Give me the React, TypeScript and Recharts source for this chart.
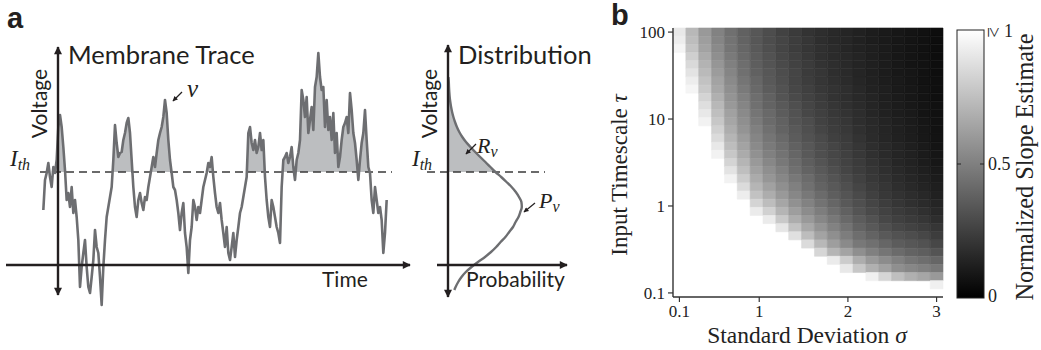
import React from 'react';
import { ComposedChart, Line, Area, XAxis, YAxis, ReferenceLine, ReferenceArea } from 'recharts';

// ---------- Panel a: membrane trace (threshold I_th at 0, arbitrary units) ----------
const traceVoltage = [
  -3.8, -0.8, -0.1, 0.9, -0.5, -1.5, 0.5, -0.1, 1.2, 4.5,
  5.7, 4.5, 2.5, 0.2, -2.8, -2.1, -3.5, -1.5, -4.1, -2.8,
  -4.5, -6.8, -11.5, -9.5, -8.1, -6.8, -9.5, -11.5, -12.1, -10.5,
  -8.8, -5.8, -7.5, -8.1, -10.5, -13.3, -9.5, -6.8, -4.5, -3.5,
  -2.5, -1.5, 1.2, 4.7, 2.9, 1.5, 1.9, 2.0, 3.2, 3.9,
  4.9, 5.4, 3.9, 1.2, -1.5, -3.5, -4.5, -2.8, -2.1, -3.1,
  -3.8, -2.5, -2.8, -1.5, -0.5, 0.5, 1.5, 0.5, 1.9, 3.2,
  3.9, 4.5, 5.5, 7.2, 5.9, 3.2, 1.2, -0.1, -1.5, -1.8,
  -2.8, -4.1, -5.8, -4.1, -3.1, -6.1, -7.5, -10.1, -6.8, -5.5,
  -2.8, -3.5, -4.8, -3.5, -4.1, -2.8, -1.5, -0.8, -0.1, 0.9,
  0.5, 1.5, -0.5, -2.1, -3.5, -4.1, -3.1, -4.8, -6.1, -7.5,
  -5.5, -8.1, -8.8, -7.5, -6.1, -8.5, -6.8, -5.5, -4.1, -3.5,
  -2.5, -1.5, -0.5, 3.9, 4.5, 2.9, 2.2, 3.2, 1.9, 2.5,
  3.9, 2.2, 3.2, -0.5, -2.8, -4.5, -5.5, -2.8, -3.5, -4.5,
  -5.5, -6.1, -7.1, -1.5, 1.2, 1.5, 1.9, 0.9, 1.5, 2.5,
  0.5, -0.8, 1.2, 1.9, 3.2, 8.2, 7.2, 5.5, 7.5, 3.9,
  5.2, 6.5, 4.2, 8.5, 9.5, 11.9, 9.5, 8.2, 8.5, 4.5,
  7.2, 4.2, 5.5, 3.2, 5.9, 1.9, 3.9, 0.5, 1.5, 3.2,
  4.5, 4.9, 5.5, 3.9, 7.9, 6.2, 3.9, 2.9, 1.2, -0.8,
  1.2, 2.9, 3.9, 6.2, 3.2, 0.5, -0.1, -2.8, -4.1, -1.5,
  -2.8, -4.1, -3.5, -4.8, -8.1, -6.1, -2.8,
];
const thresholdVoltage = 0;

// axis extents of the schematic, in data units (time steps / voltage)
const traceTimeDomain = [-26, 226];
const voltageDomain = [-14.8, 17.2];
const timeAxisVoltage = -9.3;
const timeAxisSpan = [-22.4, 220];
const voltageAxisTime = 8.8;
const voltageAxisSpan = [-12.3, 12.5];
const thresholdSpan = [-2, 209.2];

// ---------- Panel a: voltage distribution P_v ----------
const distVoltage = [
  9.5, 9, 8.5, 8, 7.5, 7, 6.5, 6, 5.5, 5, 4.5, 4, 3.5, 3, 2.5, 2, 1.5, 1, 0.5, 0,
  -0.5, -1, -1.5, -2, -2.5, -3, -3.5, -4, -4.5, -5, -5.5, -6, -6.5, -7, -7.5, -8,
  -8.5, -9, -9.5, -10, -10.5, -11, -11.5, -11.8,
];
const distDensity = [
  0.4, 0.8, 1.0, 1.3, 1.7, 2.3, 3.1, 4.1, 5.4, 7.0, 8.9, 11.3, 14.3, 18.0, 22.5, 27.2, 32.2, 37.4, 42.4, 47.5,
  53.2, 58.5, 63.6, 67.8, 71.0, 73.4, 73.8, 72.3, 70.5, 67.6, 65.0, 61.2, 57.4, 52.6, 48.2, 43.0,
  37.0, 30.0, 23.5, 17.8, 13.5, 10.2, 7.6, 6.3,
];
const densityDomain = [-28, 152];
const probAxisSpan = [-11, 119];
const distVoltageAxisSpan = [-12.5, 12.7];
const distThresholdSpan = [-21, 97];

// ---------- Panel b: normalized slope estimate ----------
const sigmaValues = [
  0.1, 0.245, 0.39, 0.535, 0.68, 0.825, 0.97, 1.115, 1.26, 1.405, 1.55,
  1.695, 1.84, 1.985, 2.13, 2.275, 2.42, 2.565, 2.71, 2.855, 3.0,
];
// from tau = 100 (top row) down to tau = 0.1
const tauValues = [
  100, 80.584, 64.938, 52.33, 42.17, 33.982, 27.384, 22.067, 17.783, 14.33, 11.548,
  9.3057, 7.4989, 6.043, 4.8697, 3.9242, 3.1623, 2.5483, 2.0535, 1.6548, 1.3335,
  1.0746, 0.866, 0.6978, 0.5623, 0.4532, 0.3652, 0.2943, 0.2371, 0.1911, 0.154, 0.1241, 0.1,
];
// one row per tau, one entry per sigma; 1 means the estimate is >= 1
const slopeRows = [
  [0.91, 0.72, 0.60, 0.51, 0.44, 0.38, 0.34, 0.30, 0.26, 0.23, 0.20, 0.18, 0.16, 0.145, 0.13, 0.115, 0.10, 0.09, 0.08, 0.065, 0.05],
  [0.93, 0.74, 0.62, 0.52, 0.45, 0.39, 0.34, 0.30, 0.27, 0.24, 0.21, 0.18, 0.16, 0.15, 0.13, 0.115, 0.10, 0.09, 0.08, 0.065, 0.05],
  [0.96, 0.77, 0.64, 0.54, 0.46, 0.40, 0.35, 0.31, 0.27, 0.24, 0.21, 0.19, 0.17, 0.15, 0.135, 0.12, 0.105, 0.09, 0.08, 0.065, 0.05],
  [1, 0.81, 0.67, 0.56, 0.48, 0.41, 0.36, 0.32, 0.28, 0.25, 0.22, 0.19, 0.17, 0.155, 0.14, 0.12, 0.105, 0.09, 0.08, 0.065, 0.05],
  [1, 0.85, 0.70, 0.59, 0.50, 0.43, 0.37, 0.33, 0.29, 0.26, 0.23, 0.20, 0.18, 0.16, 0.14, 0.125, 0.11, 0.095, 0.08, 0.07, 0.055],
  [1, 0.89, 0.73, 0.61, 0.52, 0.44, 0.38, 0.34, 0.30, 0.27, 0.23, 0.21, 0.18, 0.165, 0.145, 0.125, 0.11, 0.095, 0.085, 0.07, 0.055],
  [1, 0.93, 0.76, 0.64, 0.54, 0.46, 0.40, 0.35, 0.31, 0.27, 0.24, 0.21, 0.19, 0.17, 0.15, 0.13, 0.115, 0.10, 0.085, 0.07, 0.06],
  [1, 0.96, 0.79, 0.66, 0.56, 0.48, 0.41, 0.36, 0.32, 0.28, 0.25, 0.22, 0.20, 0.18, 0.155, 0.135, 0.12, 0.10, 0.09, 0.075, 0.06],
  [1, 1, 0.83, 0.69, 0.58, 0.50, 0.43, 0.38, 0.33, 0.29, 0.26, 0.23, 0.20, 0.18, 0.16, 0.14, 0.12, 0.105, 0.09, 0.075, 0.06],
  [1, 1, 0.87, 0.72, 0.60, 0.52, 0.44, 0.39, 0.35, 0.31, 0.27, 0.24, 0.21, 0.19, 0.17, 0.145, 0.125, 0.11, 0.095, 0.08, 0.065],
  [1, 1, 0.91, 0.75, 0.63, 0.54, 0.46, 0.41, 0.36, 0.32, 0.28, 0.25, 0.22, 0.20, 0.175, 0.15, 0.13, 0.115, 0.10, 0.08, 0.065],
  [1, 1, 0.95, 0.78, 0.65, 0.56, 0.48, 0.42, 0.38, 0.33, 0.30, 0.26, 0.23, 0.21, 0.18, 0.16, 0.14, 0.12, 0.105, 0.085, 0.07],
  [1, 1, 1, 0.82, 0.68, 0.58, 0.50, 0.44, 0.39, 0.35, 0.31, 0.27, 0.24, 0.22, 0.19, 0.165, 0.145, 0.125, 0.11, 0.09, 0.07],
  [1, 1, 1, 0.86, 0.71, 0.61, 0.52, 0.46, 0.41, 0.36, 0.32, 0.29, 0.25, 0.23, 0.20, 0.17, 0.15, 0.13, 0.115, 0.095, 0.075],
  [1, 1, 1, 0.91, 0.74, 0.64, 0.54, 0.48, 0.43, 0.38, 0.34, 0.30, 0.27, 0.24, 0.21, 0.18, 0.16, 0.14, 0.12, 0.10, 0.08],
  [1, 1, 1, 0.95, 0.78, 0.67, 0.57, 0.50, 0.45, 0.40, 0.35, 0.31, 0.28, 0.25, 0.22, 0.19, 0.165, 0.145, 0.13, 0.105, 0.085],
  [1, 1, 1, 1, 0.83, 0.71, 0.60, 0.53, 0.47, 0.42, 0.37, 0.33, 0.29, 0.26, 0.23, 0.20, 0.175, 0.15, 0.135, 0.11, 0.09],
  [1, 1, 1, 1, 0.89, 0.75, 0.63, 0.56, 0.50, 0.44, 0.39, 0.35, 0.31, 0.27, 0.24, 0.21, 0.185, 0.16, 0.14, 0.12, 0.10],
  [1, 1, 1, 1, 0.95, 0.80, 0.67, 0.59, 0.53, 0.47, 0.42, 0.37, 0.33, 0.29, 0.255, 0.22, 0.195, 0.17, 0.15, 0.13, 0.11],
  [1, 1, 1, 1, 1, 0.86, 0.71, 0.63, 0.56, 0.50, 0.44, 0.39, 0.35, 0.31, 0.27, 0.235, 0.21, 0.18, 0.16, 0.14, 0.12],
  [1, 1, 1, 1, 1, 0.93, 0.76, 0.68, 0.60, 0.53, 0.47, 0.42, 0.37, 0.33, 0.29, 0.25, 0.22, 0.195, 0.175, 0.155, 0.13],
  [1, 1, 1, 1, 1, 1, 0.83, 0.74, 0.65, 0.57, 0.51, 0.45, 0.40, 0.35, 0.31, 0.27, 0.24, 0.21, 0.19, 0.17, 0.145],
  [1, 1, 1, 1, 1, 1, 0.92, 0.82, 0.71, 0.62, 0.55, 0.49, 0.43, 0.38, 0.33, 0.29, 0.26, 0.23, 0.21, 0.19, 0.16],
  [1, 1, 1, 1, 1, 1, 1, 0.92, 0.79, 0.68, 0.60, 0.53, 0.47, 0.41, 0.36, 0.32, 0.28, 0.25, 0.23, 0.21, 0.18],
  [1, 1, 1, 1, 1, 1, 1, 1, 0.90, 0.76, 0.66, 0.58, 0.51, 0.45, 0.39, 0.35, 0.31, 0.28, 0.26, 0.24, 0.21],
  [1, 1, 1, 1, 1, 1, 1, 1, 1, 0.88, 0.74, 0.64, 0.56, 0.49, 0.43, 0.39, 0.35, 0.32, 0.30, 0.28, 0.24],
  [1, 1, 1, 1, 1, 1, 1, 1, 1, 1, 0.86, 0.72, 0.62, 0.54, 0.47, 0.44, 0.40, 0.36, 0.34, 0.32, 0.28],
  [1, 1, 1, 1, 1, 1, 1, 1, 1, 1, 1, 0.84, 0.71, 0.64, 0.56, 0.50, 0.46, 0.42, 0.39, 0.37, 0.33],
  [1, 1, 1, 1, 1, 1, 1, 1, 1, 1, 1, 1, 0.92, 0.80, 0.68, 0.60, 0.55, 0.50, 0.46, 0.43, 0.40],
  [1, 1, 1, 1, 1, 1, 1, 1, 1, 1, 1, 1, 1, 0.91, 0.78, 0.69, 0.63, 0.56, 0.53, 0.50, 0.47],
  [1, 1, 1, 1, 1, 1, 1, 1, 1, 1, 1, 1, 1, 1, 1, 0.94, 0.84, 0.75, 0.69, 0.65, 0.60],
  [1, 1, 1, 1, 1, 1, 1, 1, 1, 1, 1, 1, 1, 1, 1, 1, 1, 1, 1, 1, 0.94],
  [1, 1, 1, 1, 1, 1, 1, 1, 1, 1, 1, 1, 1, 1, 1, 1, 1, 1, 1, 1, 1],
];
const sigmaTicks = [0.1, 1, 2, 3];
const tauTicks = [0.1, 1, 10, 100];
const colorbarTicks = ['0', '0.5', '1'];

// ---------- derived tables ----------
const traceData = traceVoltage.map((v, i) => ({
  t: i,
  v,
  above: Math.max(v, thresholdVoltage),
}));

const distData = distVoltage.map((v, i) => ({
  v,
  p: distDensity[i],
  pAbove: v >= thresholdVoltage ? distDensity[i] : null,
}));

const sigmaHalf = (sigmaValues[1] - sigmaValues[0]) / 2;
const tauHalfRatio = Math.sqrt(tauValues[0] / tauValues[1]);
const sigmaDomain = [sigmaValues[0] - sigmaHalf, sigmaValues[sigmaValues.length - 1] + sigmaHalf];
const tauDomain = [tauValues[tauValues.length - 1] / tauHalfRatio, tauValues[0] * tauHalfRatio];

const heatCells = slopeRows.flatMap((row, r) =>
  row.map((value, c) => ({ sigma: sigmaValues[c], tau: tauValues[r], value }))
);

const grayOf = (value: number) => {
  const g = Math.round(255 * Math.max(0, Math.min(1, value)));
  return `rgb(${g},${g},${g})`;
};

// ---------- styling ----------
const INK = '#231f20';
const TRACE = '#6d6e71';
const SHADE = '#bcbec0';
const SANS = 'Lato, "Open Sans", sans-serif';
const SERIF = '"Liberation Serif", "DejaVu Serif", serif';

const axisArrow = (both: boolean) => (props: any) => (
  <line
    x1={props.x1}
    y1={props.y1}
    x2={props.x2}
    y2={props.y2}
    stroke={INK}
    strokeWidth={2.4}
    markerEnd="url(#axisArrow)"
    markerStart={both ? 'url(#axisArrow)' : undefined}
  />
);

const MembraneTrace = () => (
  <ComposedChart width={420} height={320} data={traceData} margin={{ top: 0, right: 0, bottom: 0, left: 0 }}>
    <XAxis type="number" dataKey="t" domain={traceTimeDomain} allowDataOverflow hide />
    <YAxis type="number" domain={voltageDomain} allowDataOverflow hide />
    <Area
      type="linear"
      dataKey="above"
      baseValue={thresholdVoltage}
      stroke="none"
      fill={SHADE}
      fillOpacity={1}
      isAnimationActive={false}
      activeDot={false}
    />
    <ReferenceLine
      segment={[{ x: thresholdSpan[0], y: thresholdVoltage }, { x: thresholdSpan[1], y: thresholdVoltage }]}
      stroke="#3a3a3a"
      strokeWidth={1.4}
      strokeDasharray="8 5"
    />
    <Line
      type="linear"
      dataKey="v"
      stroke={TRACE}
      strokeWidth={2.6}
      strokeLinejoin="round"
      dot={false}
      activeDot={false}
      isAnimationActive={false}
    />
    <ReferenceLine
      segment={[{ x: timeAxisSpan[0], y: timeAxisVoltage }, { x: timeAxisSpan[1], y: timeAxisVoltage }]}
      shape={axisArrow(false)}
    />
    <ReferenceLine
      segment={[{ x: voltageAxisTime, y: voltageAxisSpan[0] }, { x: voltageAxisTime, y: voltageAxisSpan[1] }]}
      shape={axisArrow(true)}
    />
  </ComposedChart>
);

const Distribution = () => (
  <ComposedChart
    width={180}
    height={320}
    layout="vertical"
    data={distData}
    margin={{ top: 0, right: 0, bottom: 0, left: 0 }}
  >
    <XAxis type="number" domain={densityDomain} allowDataOverflow hide />
    <YAxis type="number" dataKey="v" domain={voltageDomain} allowDataOverflow reversed hide />
    <Area
      type="monotone"
      dataKey="pAbove"
      baseValue={0}
      stroke="none"
      fill={SHADE}
      fillOpacity={1}
      isAnimationActive={false}
      activeDot={false}
    />
    <ReferenceLine
      segment={[{ x: distThresholdSpan[0], y: thresholdVoltage }, { x: distThresholdSpan[1], y: thresholdVoltage }]}
      stroke="#3a3a3a"
      strokeWidth={1.4}
      strokeDasharray="8 5"
    />
    <Line
      type="monotone"
      dataKey="p"
      stroke={TRACE}
      strokeWidth={2.4}
      dot={false}
      activeDot={false}
      isAnimationActive={false}
    />
    <ReferenceLine
      segment={[{ x: probAxisSpan[0], y: timeAxisVoltage }, { x: probAxisSpan[1], y: timeAxisVoltage }]}
      shape={axisArrow(false)}
    />
    <ReferenceLine
      segment={[{ x: 0, y: distVoltageAxisSpan[0] }, { x: 0, y: distVoltageAxisSpan[1] }]}
      shape={axisArrow(true)}
    />
  </ComposedChart>
);

const tickStyle = { fontFamily: SERIF, fontSize: 17, fill: '#222' };

const SlopeHeatmap = () => (
  <ComposedChart width={441} height={350} data={heatCells} margin={{ top: 28, right: 98, bottom: 0, left: 0 }}>
    {heatCells
      .filter((cell) => cell.value < 1)
      .map((cell) => (
        <ReferenceArea
          key={`${cell.sigma}-${cell.tau}`}
          x1={cell.sigma - sigmaHalf}
          x2={cell.sigma + sigmaHalf}
          y1={cell.tau / tauHalfRatio}
          y2={cell.tau * tauHalfRatio}
          fill={grayOf(cell.value)}
          fillOpacity={1}
          stroke={grayOf(cell.value)}
          strokeWidth={0.6}
          ifOverflow="visible"
        />
      ))}
    <XAxis
      type="number"
      dataKey="sigma"
      domain={sigmaDomain}
      ticks={sigmaTicks}
      allowDataOverflow
      height={53}
      tickSize={5}
      tickMargin={3}
      axisLine={{ stroke: '#333', strokeWidth: 1.4 }}
      tickLine={{ stroke: '#333', strokeWidth: 1.2 }}
      tick={tickStyle}
      tickFormatter={(v: number) => String(v)}
    />
    <YAxis
      type="number"
      dataKey="tau"
      scale="log"
      domain={tauDomain}
      ticks={tauTicks}
      allowDataOverflow
      width={73}
      tickSize={5}
      tickMargin={3}
      axisLine={{ stroke: '#333', strokeWidth: 1.4 }}
      tickLine={{ stroke: '#333', strokeWidth: 1.2 }}
      tick={tickStyle}
      tickFormatter={(v: number) => String(v)}
    />
  </ComposedChart>
);

const Annotations = () => (
  <svg
    width={1041}
    height={350}
    style={{ position: 'absolute', left: 0, top: 0, pointerEvents: 'none', overflow: 'visible' }}
  >
    <defs>
      <marker
        id="axisArrow"
        viewBox="0 0 10 10"
        refX="9"
        refY="5"
        markerWidth="11"
        markerHeight="8"
        markerUnits="userSpaceOnUse"
        orient="auto-start-reverse"
      >
        <path d="M0,0 L10,5 L0,10 z" fill={INK} />
      </marker>
      <marker
        id="labelArrow"
        viewBox="0 0 10 10"
        refX="9"
        refY="5"
        markerWidth="6"
        markerHeight="5"
        markerUnits="userSpaceOnUse"
        orient="auto"
      >
        <path d="M0,0 L10,5 L0,10 z" fill={INK} />
      </marker>
      <linearGradient id="grayRamp" x1="0" y1="1" x2="0" y2="0">
        <stop offset="0" stopColor="#000" />
        <stop offset="1" stopColor="#fff" />
      </linearGradient>
    </defs>

    {/* panel letters */}
    <text x={7} y={28} fontFamily='"Liberation Sans", Arial, sans-serif' fontWeight="bold" fontSize={29} fill={INK}>
      a
    </text>
    <text x={611} y={25} fontFamily='"Liberation Sans", Arial, sans-serif' fontWeight="bold" fontSize={29} fill={INK}>
      b
    </text>

    {/* panel a labels */}
    <g fontFamily={SANS} fill={INK}>
      <text x={68} y={64} fontSize={25.5}>Membrane Trace</text>
      <text x={458} y={64} fontSize={25.5}>Distribution</text>
      <text transform="translate(47,103.5) rotate(-90)" textAnchor="middle" fontSize={21}>Voltage</text>
      <text transform="translate(437,103.5) rotate(-90)" textAnchor="middle" fontSize={21}>Voltage</text>
      <text x={322} y={287} fontSize={21}>Time</text>
      <text x={466} y={287} fontSize={21}>Probability</text>
    </g>
    <g fontFamily={SERIF} fontStyle="italic" fill={INK}>
      <text x={10} y={166} fontSize={23}>
        I<tspan fontSize={16} dy={4}>th</tspan>
      </text>
      <text x={412} y={166} fontSize={23}>
        I<tspan fontSize={16} dy={4}>th</tspan>
      </text>
      <text x={187} y={97} fontSize={25}>v</text>
      <text x={477} y={153} fontSize={22}>
        R<tspan fontSize={16} dy={4}>v</tspan>
      </text>
      <text x={539} y={208} fontSize={22}>
        P<tspan fontSize={16} dy={4}>v</tspan>
      </text>
    </g>
    <g stroke={INK} strokeWidth={1.2}>
      <line x1={182} y1={92} x2={173} y2={101} markerEnd="url(#labelArrow)" />
      <line x1={476} y1={144} x2={466} y2={154} markerEnd="url(#labelArrow)" />
      <line x1={535} y1={203} x2={524} y2={212} markerEnd="url(#labelArrow)" />
    </g>

    {/* panel b labels */}
    <g fontFamily={SERIF} fill="#222">
      <text transform="translate(627,175) rotate(-90)" textAnchor="middle" fontSize={23}>
        Input Timescale <tspan fontStyle="italic">τ</tspan>
      </text>
      <text x={807} y={343} textAnchor="middle" fontSize={23.5}>
        Standard Deviation <tspan fontStyle="italic">σ</tspan>
      </text>
      <text transform="translate(1033,167) rotate(-90)" textAnchor="middle" fontSize={24.3}>
        Normalized Slope Estimate
      </text>
    </g>

    {/* colour bar */}
    <rect x={957} y={30} width={27} height={268} fill="url(#grayRamp)" stroke="#222" strokeWidth={1} />
    <line x1={957} y1={164} x2={961} y2={164} stroke="#222" strokeWidth={1} />
    <line x1={980} y1={164} x2={984} y2={164} stroke="#222" strokeWidth={1} />
    <g fontFamily={SERIF} fontSize={18} fill="#222">
      <text x={988} y={302}>{colorbarTicks[0]}</text>
      <text x={988} y={170}>{colorbarTicks[1]}</text>
      <text transform="translate(988,27) rotate(90)" fontSize={19}>≥</text>
      <text x={1004} y={37}>{colorbarTicks[2]}</text>
    </g>
  </svg>
);

export default function App() {
  return (
    <div style={{ position: 'absolute', left: 0, top: 0, width: 1041, height: 350, background: '#fff' }}>
      <div style={{ position: 'absolute', left: 0, top: 0 }}>
        <MembraneTrace />
      </div>
      <div style={{ position: 'absolute', left: 420, top: 0 }}>
        <Distribution />
      </div>
      <div style={{ position: 'absolute', left: 600, top: 0 }}>
        <SlopeHeatmap />
      </div>
      <Annotations />
    </div>
  );
}
